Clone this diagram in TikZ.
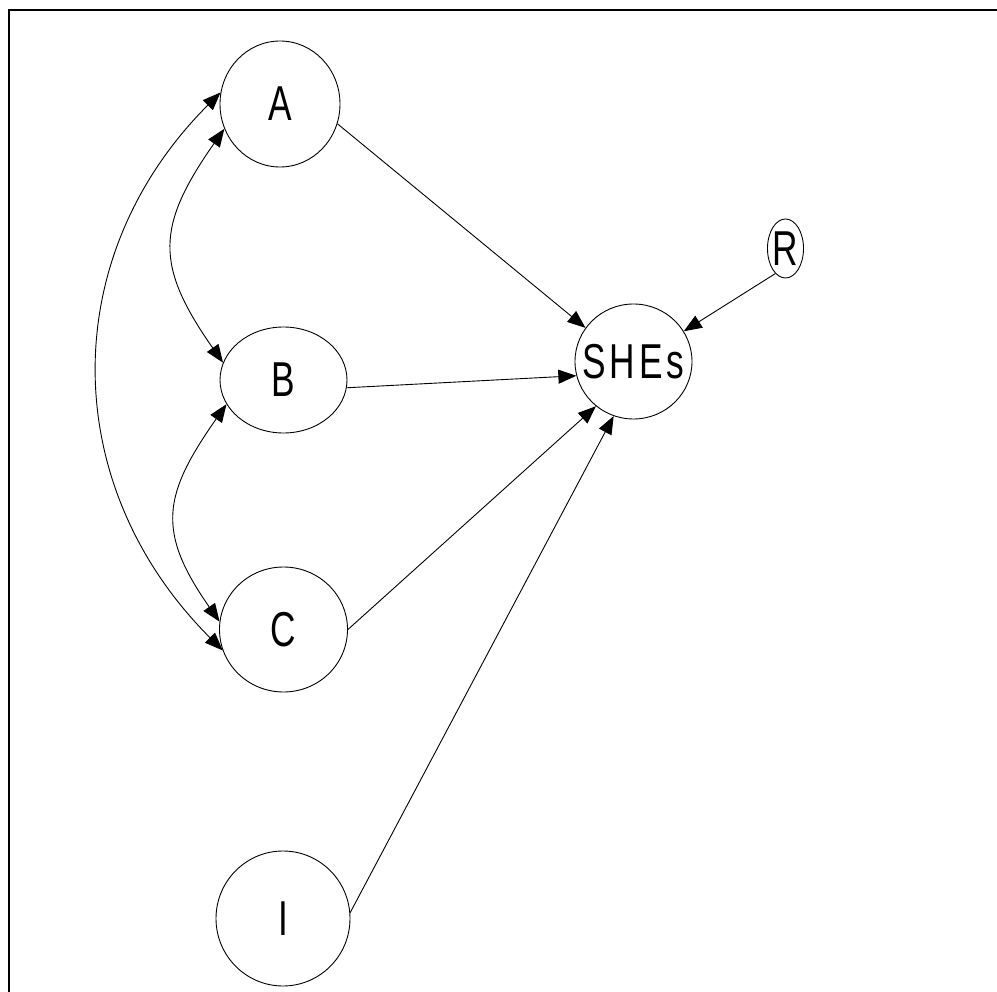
\documentclass[tikz,border=0pt]{standalone}
\usepackage{fontspec}
\newfontfamily\narrowfont[FakeStretch=0.72]{Liberation Sans}
\newfontfamily\narrowspaced[FakeStretch=0.72,LetterSpace=8]{Liberation Sans}
\usetikzlibrary{shapes.geometric,arrows.meta}
\begin{document}
\begin{tikzpicture}[x=1pt,y=1pt,
  var/.style={ellipse,draw,line width=0.9pt,inner sep=0pt,font=\narrowfont\fontsize{49}{49}\selectfont},
  edge/.style={line width=0.9pt,-{Triangle[length=18pt,width=14pt]}},
  dedge/.style={line width=0.9pt,{Triangle[length=18pt,width=14pt]}-{Triangle[length=18pt,width=14pt]}}]
\useasboundingbox (0,0) rectangle (997,-992);
\draw[line width=2pt] (9,-992) -- (9,-10) -- (997,-10);
\node[var,minimum width=120pt,minimum height=126pt] (A) at (280,-104) {\raisebox{-4pt}{A}};
\node[var,minimum width=127pt,minimum height=106pt] (B) at (283.5,-380) {\raisebox{-4pt}{B}};
\node[var,minimum width=128pt,minimum height=125pt] (C) at (283.5,-629.5) {\raisebox{-4pt}{C}};
\node[var,minimum width=134pt,minimum height=135pt] (I) at (283,-918.5) {\raisebox{-4pt}{I}};
\node[var,minimum width=117pt,minimum height=115pt,
  label={[font=\narrowspaced\fontsize{49}{49}\selectfont,inner sep=0pt]center:\raisebox{-4pt}{SHEs}}] (S) at (633.5,-361.5) {};
\node[var,minimum width=33pt,minimum height=59pt] (R) at (785.5,-248.5) {\raisebox{-4pt}{R}};
\draw[edge] (A.-19) -- (S.145);
\draw[edge] (B.-7) -- (S.194);
\draw[edge] (C.0) -- (S.230);
\draw[edge] (I.5.5) -- (S.250);
\draw[edge] (R.248) -- (S.31);
\draw[dedge] (A.204) to[out=235,in=125,looseness=1.3] (B.164);
\draw[dedge] (B.203.5) to[out=235,in=125,looseness=1.3] (C.173);
\draw[dedge] (A.169) to[out=225,in=135,looseness=1.065] (C.199);
\end{tikzpicture}
\end{document}
